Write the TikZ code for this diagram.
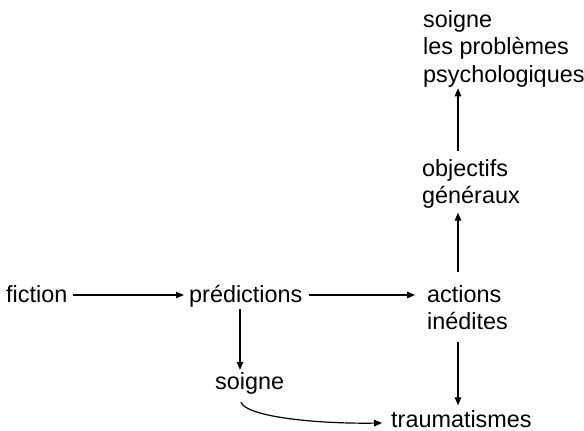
\documentclass[tikz,border=0pt]{standalone}
\usepackage{fontspec}
\setmainfont{Liberation Sans}
\usetikzlibrary{arrows.meta,calc}
\begin{document}
\begin{tikzpicture}[x=1pt,y=-1pt,
  lbl/.style={inner sep=0pt,anchor=base west,align=left,
    font=\fontsize{23.4pt}{27.6pt}\selectfont},
  arr/.style={line width=1.2pt,-{Triangle[length=8pt,width=6.5pt]}}]
\useasboundingbox[fill=white] (0,0) rectangle (584,431);
% labels (anchored on the baseline of their last line)
\node[lbl] (fic) at (6,302) {fiction};
\node[lbl] (pred) at (189,302) {prédictions};
\node[lbl] (act) at (427,329.6) {actions\\inédites};
\node[lbl] (soin) at (215,389) {soigne};
\node[lbl] (trau) at (391,427.5) {traumatismes};
\node[lbl] (obj) at (422,203.6) {objectifs\\généraux};
\node[lbl] (psy) at (423,82.2) {soigne\\les problèmes\\psychologiques};
% connectors
\coordinate (a1) at (72,295);
\draw[arr] ($(fic.east |- a1)+(5,0)$) -- ($(pred.west |- a1)+(-5,0)$);
\draw[arr] ($(pred.east |- a1)+(6,0)$) -- ($(act.west |- a1)+(-12,0)$);
\draw[arr] ($(pred.south west)+(51,2)$) -- ($(soin.north west)+(25,-2)$);
\draw[arr] ($(act.south west)+(31,12)$) -- ($(trau.north west)+(67,-5)$);
\draw[arr] ($(act.north west)+(31,-13)$) -- ($(obj.south west)+(36,4)$);
\draw[arr] ($(obj.north west)+(36,-8)$) -- ($(psy.south west)+(35,1)$);
\draw[arr] ($(soin.south west)+(26,8)$) .. controls +(4,14) and +(-70,1) .. ($(trau.base west)+(-9,-4.5)$);
\end{tikzpicture}
\end{document}
